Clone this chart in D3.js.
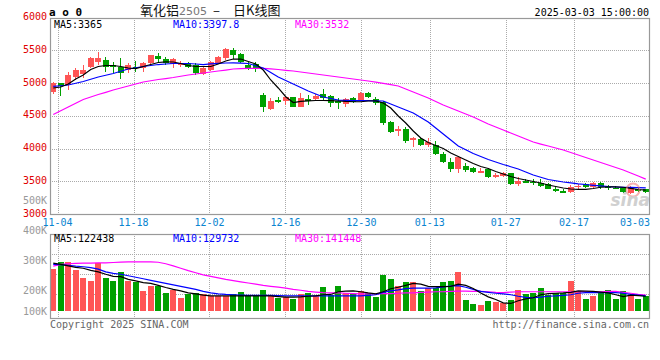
<!DOCTYPE html>
<html>
<head>
<meta charset="utf-8">
<script src="https://cdn.jsdelivr.net/npm/d3@7"></script>
<style>
body { margin: 0; background: #fff; }
svg text { font-family: "DejaVu Sans Mono", monospace; font-size: 10px; }
</style>
</head>
<body>
<svg id="chart" width="660" height="360"></svg>
<script>
// daily candles, 2024-11-01 .. 2025-03-03
var OPEN = [4867,5000,4969,5092,5145,5237,5325,5351,5275,5240,
	5198,5249,5229,5305,5412,5361,5290,5275,5300,5275,
	5137,5198,5310,5377,5504,5438,5275,5285,4817,4603,
	4740,4730,4781,4629,4751,4756,4827,4806,4730,4679,
	4766,4740,4852,4751,4705,4409,4272,4293,4130,4140,
	4053,4053,3916,3798,3682,3733,3698,3631,3682,3570,
	3580,3621,3458,3508,3488,3478,3458,3376,3356,3341,
	3407,3458,3407,3468,3417,3402,3402,3325,3377,3377];
var HIGH = [5010,5005,5172,5229,5275,5401,5478,5401,5325,5377,
	5300,5336,5316,5428,5463,5401,5377,5336,5325,5300,
	5260,5341,5412,5539,5529,5458,5325,5325,4847,4766,
	4791,4791,4791,4852,4817,4827,4908,4817,4766,4766,
	4791,4867,4867,4791,4730,4420,4343,4324,4171,4156,
	4156,4119,3951,3850,3885,3774,3713,3698,3698,3621,
	3646,3631,3570,3529,3529,3529,3478,3407,3376,3443,
	3458,3468,3493,3483,3443,3427,3417,3427,3392,3387];
var LOW = [4832,4806,4893,5046,5076,5229,5275,5173,5157,5061,
	5148,5173,5173,5275,5300,5275,5224,5244,5224,5122,
	5122,5183,5300,5351,5366,5305,5198,5173,4562,4588,
	4690,4664,4629,4629,4664,4740,4740,4638,4598,4629,
	4700,4730,4766,4664,4359,4232,4191,4089,4028,4043,
	4028,3901,3774,3646,3631,3646,3621,3621,3545,3545,
	3560,3443,3427,3468,3443,3407,3376,3341,3316,3325,
	3386,3397,3402,3376,3366,3376,3325,3310,3335,3320];
var CLOSE = [4995,4959,5122,5198,5198,5389,5389,5237,5237,5160,
	5275,5224,5298,5420,5361,5310,5361,5310,5249,5160,
	5234,5325,5401,5514,5428,5325,5214,5214,4638,4725,
	4715,4791,4634,4776,4730,4806,4766,4699,4690,4751,
	4715,4852,4791,4699,4394,4247,4298,4119,4156,4053,
	4104,3916,3798,3682,3875,3672,3646,3656,3570,3596,
	3631,3453,3508,3478,3468,3427,3386,3356,3325,3417,
	3427,3407,3478,3407,3407,3392,3340,3402,3356,3340];

var MA5 = [4924,4939,4985,5061,5122,5206,5252,5267,5267,5252,
	5229,5221,5252,5282,5313,5324,5321,5298,5267,5252,
	5252,5252,5290,5336,5366,5366,5328,5290,5198,5046,
	4924,4791,4702,4718,4728,4733,4733,4730,4725,4718,
	4714,4714,4725,4728,4695,4618,4496,4389,4267,4160,
	4092,4046,4000,3931,3878,3824,3771,3725,3695,3649,
	3611,3573,3542,3519,3496,3473,3443,3420,3397,3382,
	3377,3377,3389,3408,3415,3415,3408,3392,3374,3365];
var MA10 = [4947,4958,4969,4996,5023,5058,5092,5118,5145,5180,
	5214,5233,5252,5267,5282,5290,5298,5298,5298,5290,
	5282,5292,5301,5305,5308,5303,5298,5264,5229,5160,
	5092,5038,4985,4931,4878,4832,4786,4763,4740,4735,
	4730,4730,4730,4728,4725,4680,4634,4588,4542,4474,
	4405,4313,4221,4130,4038,3981,3924,3878,3832,3794,
	3756,3722,3687,3641,3595,3561,3527,3508,3489,3475,
	3461,3450,3438,3428,3417,3412,3408,3406,3403,3398];
var MA30 = [4519,4576,4634,4691,4748,4786,4824,4858,4893,4923,
	4954,4985,5015,5034,5053,5068,5084,5103,5122,5137,
	5153,5168,5183,5198,5214,5219,5224,5224,5224,5215,
	5206,5194,5183,5168,5153,5137,5122,5107,5092,5076,
	5061,5046,5031,5013,4995,4974,4954,4908,4863,4817,
	4771,4717,4664,4618,4572,4526,4481,4427,4374,4328,
	4282,4236,4191,4145,4099,4068,4038,4007,3977,3939,
	3901,3862,3824,3786,3748,3710,3672,3626,3580,3532];

// volume, thousand lots
var VOL = [274,296,297,270,244,233,292,244,231,264,
	231,228,201,217,217,194,203,177,189,194,
	189,184,184,184,190,197,187,184,203,183,
	177,181,173,191,194,187,214,187,217,192,
	190,200,192,179,253,239,217,228,228,200,
	209,209,228,231,261,170,157,153,167,164,
	159,170,203,190,194,211,187,194,194,231,
	198,173,183,192,203,173,200,187,173,183];
var VMA5 = [292,288,283,278,275,268,263,255,248,247,
	238,233,227,225,218,211,205,200,193,190,
	186,183,183,183,183,183,183,183,183,183,
	181,179,179,180,182,183,187,188,197,199,
	200,197,193,190,197,207,212,218,225,222,
	215,214,214,215,222,218,208,193,180,171,
	160,158,167,173,177,187,191,192,193,195,
	200,199,198,196,193,187,181,186,184,182];
var VMA10 = [288,287,285,282,280,277,272,263,258,255,
	250,245,240,235,230,225,220,215,210,205,
	198,193,190,188,187,186,185,185,185,185,
	184,183,183,183,183,183,183,183,183,183,
	183,183,185,187,195,200,203,207,209,209,
	209,210,213,216,217,212,205,198,195,192,
	190,187,182,178,177,179,182,183,185,187,
	192,194,194,194,194,194,192,188,186,183];
var VMA30 = [282,288,290,291,292,292,293,293,294,295,
	296,296,296,296,295,290,283,275,267,260,
	253,248,243,238,234,230,226,222,218,215,
	212,209,205,202,198,196,194,193,193,192,
	191,190,190,190,191,191,192,193,193,195,
	196,197,197,198,199,199,198,198,197,195,
	194,196,197,197,197,197,197,197,197,197,
	197,197,197,197,198,198,195,192,188,186];

var DATE_LABELS = ['11-04','11-18','12-02','12-16','12-30','01-13','01-27','02-17','03-03'];
var DATE_IDX = [1, 11, 21, 31, 41, 50, 60, 69, 79];
var PRICE_TICKS = [6000, 5500, 5000, 4500, 4000, 3500, 3000];
var VOL_TICKS = [500, 400, 300, 200, 100];
var MA_TEXT = ['MA5:3365', 'MA10:3397.8', 'MA30:3532'];
var VMA_TEXT = ['MA5:122438', 'MA10:129732', 'MA30:141448'];

var UP = '#ff5555', DOWN = '#00a000';
var MA_COLORS = ['#000000', '#0000ff', '#ff00ff'];
var GRID = '#aaaaaa', FRAME = '#999999';

var svg = d3.select('#chart');
var N = CLOSE.length;

var plotL = 50, plotR = 650;
var x = d3.scaleBand()
	.domain(d3.range(N))
	.range([49.5, 649.5])
	.paddingInner(0.2)
	.paddingOuter(0.1);
var xc = function(i) { return x(i) + x.bandwidth() / 2; };
// the grid of the dates sits on its own (slightly wider) step
var xg = d3.scaleLinear().domain([0, N - 1]).range([plotL, plotR]);

var yP = d3.scaleLinear().domain([3000, 6000]).range([214, 17.5]);
var yV = d3.scaleLinear().domain([133, 500]).range([311, 200.5]);
var mainTop = yP(6000), mainBot = yP(3000);
var volTop = 234, volBot = 318;
var volBase = yV.range()[0];

function crisp(v) { return Math.round(v) + 0.5; }

// grid lines
var grid = svg.append('g')
	.attr('stroke', GRID)
	.attr('stroke-dasharray', '1,1')
	.attr('shape-rendering', 'crispEdges');

PRICE_TICKS.slice(1, -1).forEach(function(t) {
	grid.append('line')
		.attr('x1', plotL).attr('x2', plotR)
		.attr('y1', crisp(yP(t))).attr('y2', crisp(yP(t)));
});
d3.range(1, 4).forEach(function(k) {
	grid.append('line')
		.attr('x1', plotL).attr('x2', plotR)
		.attr('y1', volTop + 20 * k + 0.5).attr('y2', volTop + 20 * k + 0.5);
});
DATE_IDX.slice(0, -1).forEach(function(k) {
	var gx = crisp(xg(k));
	grid.append('line').attr('x1', gx).attr('x2', gx).attr('y1', mainTop).attr('y2', mainBot);
	grid.append('line').attr('x1', gx).attr('x2', gx).attr('y1', volTop).attr('y2', volBot);
});

// candles
var candles = svg.append('g').attr('shape-rendering', 'crispEdges');
d3.range(N).forEach(function(i) {
	var o = OPEN[i], c = CLOSE[i];
	var col = c >= o ? UP : DOWN;
	candles.append('line')
		.attr('x1', crisp(xc(i) - 0.5)).attr('x2', crisp(xc(i) - 0.5))
		.attr('y1', yP(HIGH[i])).attr('y2', yP(LOW[i]))
		.attr('stroke', col);
	candles.append('rect')
		.attr('x', x(i))
		.attr('y', yP(Math.max(o, c)))
		.attr('width', x.bandwidth())
		.attr('height', Math.max(1, Math.abs(yP(o) - yP(c))))
		.attr('fill', col);
});

// volume bars
var bars = svg.append('g').attr('shape-rendering', 'crispEdges');
bars.selectAll('rect')
	.data(VOL)
	.join('rect')
	.attr('x', function(d, i) { return x(i); })
	.attr('y', function(d) { return yV(d); })
	.attr('width', x.bandwidth())
	.attr('height', function(d) { return volBase - yV(d); })
	.attr('fill', function(d, i) { return CLOSE[i] >= OPEN[i] ? UP : DOWN; });

// moving averages
function maLine(scale) {
	return d3.line()
		.x(function(d, i) { return xc(i); })
		.y(function(d) { return scale(d); });
}
[MA30, MA10, MA5].forEach(function(s, k) {
	svg.append('path')
		.attr('d', maLine(yP)(s))
		.attr('fill', 'none')
		.attr('stroke', MA_COLORS[2 - k])
		.attr('stroke-width', 1.2);
});
[VMA30, VMA10, VMA5].forEach(function(s, k) {
	svg.append('path')
		.attr('d', maLine(yV)(s))
		.attr('fill', 'none')
		.attr('stroke', MA_COLORS[2 - k])
		.attr('stroke-width', 1.2);
});

// sina mark
var logo = svg.append('g').attr('opacity', 0.55);
logo.append('circle')
	.attr('cx', 633).attr('cy', 190).attr('r', 6.5)
	.attr('fill', 'none')
	.attr('stroke', '#f07070')
	.attr('stroke-width', 2);
logo.append('text')
	.attr('x', 650).attr('y', 206)
	.attr('text-anchor', 'end')
	.attr('fill', '#aaaaaa')
	.style('font-family', '"DejaVu Sans", sans-serif')
	.style('font-style', 'italic')
	.style('font-weight', 'bold')
	.style('font-size', '17px')
	.text('sina');

// frames
svg.append('rect')
	.attr('x', plotL + 0.5).attr('y', crisp(mainTop))
	.attr('width', plotR - plotL - 1).attr('height', Math.round(mainBot - mainTop) - 1)
	.attr('fill', 'none').attr('stroke', FRAME).attr('stroke-width', 1.2);
svg.append('rect')
	.attr('x', plotL + 0.5).attr('y', volTop + 0.5)
	.attr('width', plotR - plotL - 1).attr('height', volBot - volTop)
	.attr('fill', 'none').attr('stroke', FRAME).attr('stroke-width', 1.2);

// price axis
svg.append('g').selectAll('text')
	.data(PRICE_TICKS)
	.join('text')
	.attr('x', 47)
	.attr('y', function(d) { return yP(d) - 1; })
	.attr('text-anchor', 'end')
	.attr('dominant-baseline', 'central')
	.attr('fill', '#e00000')
	.text(function(d) { return d; });

// volume axis
svg.append('g').selectAll('text')
	.data(VOL_TICKS)
	.join('text')
	.attr('x', 47)
	.attr('y', function(d) { return Math.min(yV(d), volBase); })
	.attr('text-anchor', 'end')
	.attr('dominant-baseline', 'central')
	.attr('fill', '#999999')
	.text(function(d) { return d + 'K'; });

// date axis
svg.append('g').selectAll('text')
	.data(DATE_LABELS)
	.join('text')
	.attr('x', function(d, i) { return i === DATE_LABELS.length - 1 ? plotR : xg(DATE_IDX[i]); })
	.attr('y', mainBot + 8)
	.attr('text-anchor', function(d, i) { return i === DATE_LABELS.length - 1 ? 'end' : 'middle'; })
	.attr('dominant-baseline', 'central')
	.attr('fill', '#0a84d0')
	.text(function(d) { return d; });

// MA captions
var capX = [54, 173, 295];
MA_TEXT.forEach(function(t, k) {
	svg.append('text')
		.attr('x', capX[k]).attr('y', mainTop + 7)
		.attr('dominant-baseline', 'central')
		.attr('fill', MA_COLORS[k])
		.text(t);
});
VMA_TEXT.forEach(function(t, k) {
	svg.append('text')
		.attr('x', capX[k]).attr('y', volTop + 4.5)
		.attr('dominant-baseline', 'central')
		.attr('fill', MA_COLORS[k])
		.text(t);
});

// header
svg.append('text')
	.attr('x', 49).attr('y', 16)
	.style('font-weight', 'bold')
	.style('font-size', '11px')
	.attr('fill', '#000')
	.text('a o 0');

var title = svg.append('text')
	.attr('x', 140).attr('y', 15)
	.attr('fill', '#111')
	.style('font-family', '"Noto Sans CJK SC", sans-serif')
	.style('font-size', '13px');
title.append('tspan').text('氧化铝');
title.append('tspan')
	.attr('fill', '#777')
	.style('font-family', '"DejaVu Sans", sans-serif')
	.style('font-size', '11px')
	.text('2505');
title.append('tspan').attr('dx', 6).text('–');
title.append('tspan').attr('dx', 13).text('日K线图');

svg.append('text')
	.attr('x', 649).attr('y', 16)
	.attr('text-anchor', 'end')
	.attr('fill', '#000')
	.text('2025-03-03 15:00:00');

// footer
svg.append('text')
	.attr('x', 50).attr('y', volBot + 6)
	.attr('dominant-baseline', 'central')
	.attr('fill', '#666')
	.text('Copyright 2025 SINA.COM');
svg.append('text')
	.attr('x', 649).attr('y', volBot + 6)
	.attr('text-anchor', 'end')
	.attr('dominant-baseline', 'central')
	.attr('fill', '#666')
	.text('http://finance.sina.com.cn');
</script>
</body>
</html>
